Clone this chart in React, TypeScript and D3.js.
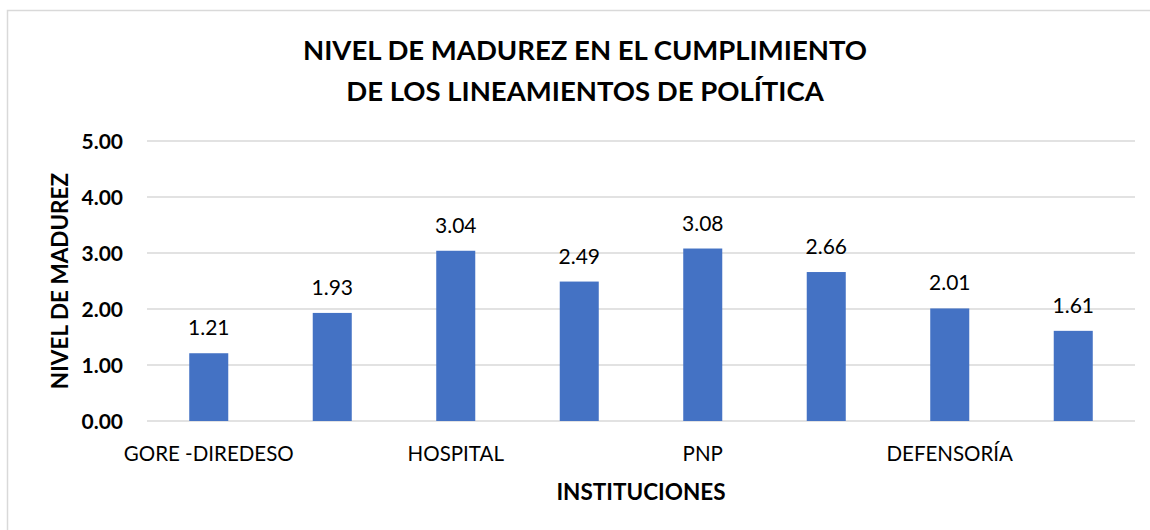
import React from "react";
import * as d3 from "d3";

const titleLines = ["NIVEL DE MADUREZ EN EL CUMPLIMIENTO", "DE LOS LINEAMIENTOS DE POLÍTICA"];
const categoryLabels = ["GORE -DIREDESO", "", "HOSPITAL", "", "PNP", "", "DEFENSORÍA", ""];
const values = [1.21, 1.93, 3.04, 2.49, 3.08, 2.66, 2.01, 1.61];
const yTicks = [0, 1, 2, 3, 4, 5];
const xTitle = "INSTITUCIONES";
const yTitle = "NIVEL DE MADUREZ";

const W = 1150;
const H = 530;
const FONT = "Lato, 'Open Sans', sans-serif";

export default function App() {
  const left = 147, right = 1135, top = 141, bottom = 421;
  const x = d3.scaleBand<number>().domain(values.map((_, i) => i)).range([left, right]).paddingInner(0.684).paddingOuter(0.342);
  const y = d3.scaleLinear().domain([0, 5]).range([bottom, top]);
  const fmt = d3.format(".2f");
  return (
    <svg width={W} height={H} style={{ position: "absolute", left: 0, top: 0, background: "#fff" }} fontFamily={FONT}>
      <rect x={7.5} y={10.5} width={1160} height={540} fill="#fff" stroke="#D9D9D9" strokeWidth={1.5} />
      {titleLines.map((t, i) => (
        <text key={i} x={585} y={60 + i * 41} textAnchor="middle" fontSize={27.5} fontWeight={700} fill="#000">{t}</text>
      ))}
      {yTicks.map((t) => (
        <g key={t}>
          <line x1={left} x2={right} y1={y(t)} y2={y(t)} stroke="#D9D9D9" strokeWidth={1.3} />
          <text x={123} y={y(t)} dy="0.36em" textAnchor="end" fontSize={21} fontWeight={700} fill="#000">{fmt(t)}</text>
        </g>
      ))}
      {values.map((v, i) => (
        <g key={i}>
          <rect x={x(i)} y={y(v)} width={x.bandwidth()} height={y(0) - y(v)} fill="#4472C4" />
          <text x={(x(i) as number) + x.bandwidth() / 2} y={y(v) - 18} textAnchor="middle" fontSize={21} fill="#000">{fmt(v)}</text>
          {categoryLabels[i] && (
            <text x={(x(i) as number) + x.bandwidth() / 2} y={461} textAnchor="middle" fontSize={20.5} fill="#000">{categoryLabels[i]}</text>
          )}
        </g>
      ))}
      <text x={(left + right) / 2} y={500} textAnchor="middle" fontSize={22.5} fontWeight={700} fill="#000">{xTitle}</text>
      <text transform={`translate(68,${281}) rotate(-90)`} textAnchor="middle" fontSize={22.5} fontWeight={700} fill="#000">{yTitle}</text>
    </svg>
  );
}
